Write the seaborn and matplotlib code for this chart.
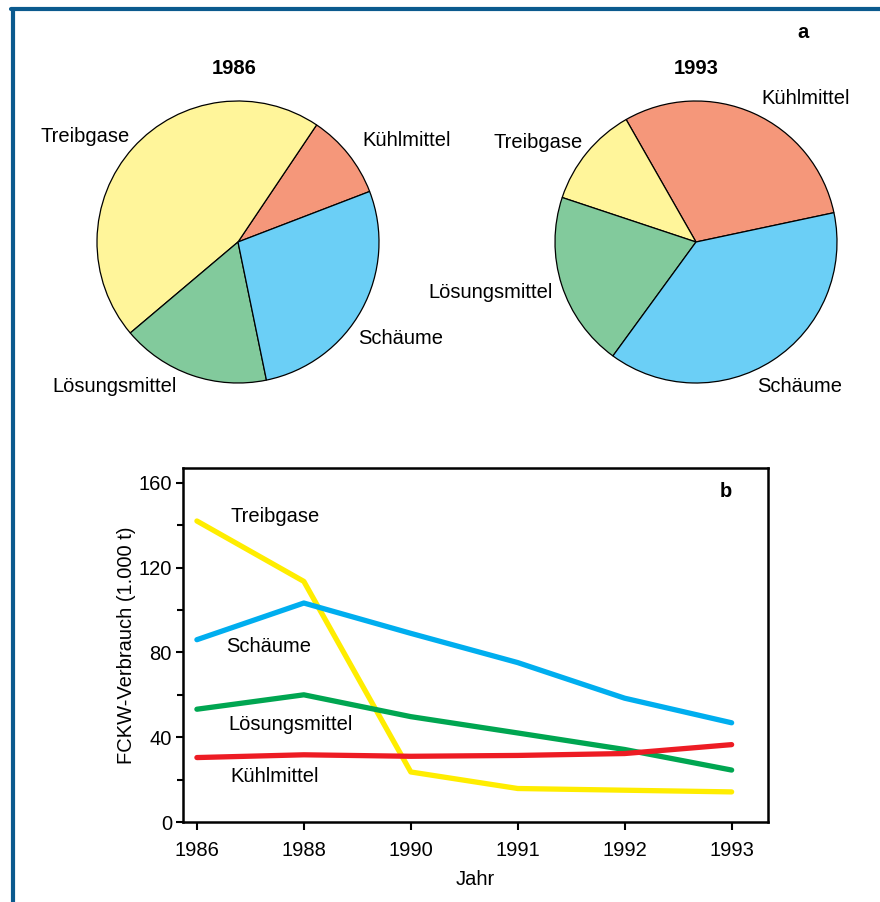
import numpy as np
import pandas as pd
import seaborn as sns
import matplotlib
matplotlib.use('Agg')
import matplotlib.pyplot as plt
from matplotlib.lines import Line2D

# data
jahre = ['1986', '1988', '1990', '1991', '1992', '1993']
treibgase = [142, 113.5, 23.6, 15.8, 15, 14.2]
schaeume = [86, 103.3, 89, 75.2, 58.4, 46.8]
loesungsmittel = [53.2, 60, 49.7, 42, 34.2, 24.5]
kuehlmittel = [30.4, 31.7, 31, 31.4, 32.3, 36.5]

namen = ['Kühlmittel', 'Treibgase', 'Lösungsmittel', 'Schäume']
pie_farben = ['#F5977A', '#FFF59A', '#82CA9C', '#6BCFF6']
linien_farben = {'Treibgase': '#FFED00', 'Schäume': '#00AEEF',
                 'Lösungsmittel': '#00A651', 'Kühlmittel': '#ED1C24'}

serien = {'Kühlmittel': kuehlmittel, 'Treibgase': treibgase,
          'Lösungsmittel': loesungsmittel, 'Schäume': schaeume}

df = pd.DataFrame({'pos': list(range(len(jahre))) * 4,
                   'wert': treibgase + schaeume + loesungsmittel + kuehlmittel,
                   'art': (['Treibgase'] * 6 + ['Schäume'] * 6
                           + ['Lösungsmittel'] * 6 + ['Kühlmittel'] * 6)})

sns.set_theme(style='white')
plt.rcParams['font.family'] = ['Liberation Sans', 'DejaVu Sans']
for k in ['text.color', 'axes.labelcolor', 'xtick.color', 'ytick.color']:
    plt.rcParams[k] = 'black'
FS = 14.5

W, H = 880, 902
fig = plt.figure(figsize=(W / 100, H / 100), dpi=100)


def fx(x):
    return x / W


def fy(y):
    return 1 - y / H


# frame
farbe_rahmen = '#0B5A8E'
fig.add_artist(Line2D([fx(13), fx(13)], [0, fy(9)], color=farbe_rahmen, lw=3, transform=fig.transFigure))
fig.add_artist(Line2D([fx(11), 1], [fy(9), fy(9)], color=farbe_rahmen, lw=3, transform=fig.transFigure))

# pies
r = 141
for cx, cy, jahr_idx, start, labels in [
        (238, 242, 0, 21, {'Treibgase': (40, 137), 'Kühlmittel': (362, 141),
                           'Schäume': (358, 338), 'Lösungsmittel': (52, 387)}),
        (696, 242, 5, 12, {'Kühlmittel': (761, 98), 'Treibgase': (493, 143),
                           'Lösungsmittel': (428, 293), 'Schäume': (757, 387)})]:
    ax = fig.add_axes([fx(cx - r), fy(cy + r), 2 * r / W, 2 * r / H])
    werte = [serien[n][jahr_idx] for n in namen]
    ax.pie(werte, colors=pie_farben, startangle=start, counterclock=True,
           wedgeprops={'edgecolor': 'black', 'linewidth': 0.9})
    ax.set_xlim(-1, 1)
    ax.set_ylim(-1, 1)
    ax.axis('off')
    fig.text(fx(cx - 4 if jahr_idx == 0 else cx), fy(68), jahre[jahr_idx],
             ha='center', va='center', fontsize=FS, fontweight='bold')
    for n, (lx, ly) in labels.items():
        fig.text(fx(lx), fy(ly), n, ha='left', va='center', fontsize=FS)

fig.text(fx(803), fy(33), 'a', ha='center', va='center', fontsize=FS, fontweight='bold')

# line chart
ax = fig.add_axes([fx(183), fy(822), (768 - 183) / W, (822 - 468) / H])
sns.lineplot(data=df, x='pos', y='wert', hue='art', palette=linien_farben,
             linewidth=3.8, legend=False, ax=ax)
ax.set_xlim(-0.13, 5.34)
ax.set_ylim(0, 167)
ax.set_xticks(range(len(jahre)))
ax.set_xticklabels(jahre)
ax.set_yticks([0, 40, 80, 120, 160])
ax.set_yticks([20, 60, 100, 140], minor=True)
ax.tick_params(axis='x', direction='out', length=6, width=1.5, labelsize=FS,
               bottom=True, pad=7.5)
ax.tick_params(axis='y', which='major', direction='out', length=5, width=1.5,
               labelsize=FS, left=True, pad=3)
ax.tick_params(axis='y', which='minor', direction='out', length=4, width=1.5,
               left=True)
for s in ax.spines.values():
    s.set_color('black')
    s.set_linewidth(1.8)
ax.set_xlabel('Jahr', fontsize=FS, labelpad=7.5)
ax.set_ylabel('FCKW-Verbrauch (1.000 t)', fontsize=FS, labelpad=2)

for n, (lx, ly) in {'Treibgase': (230, 517), 'Schäume': (226, 646),
                    'Lösungsmittel': (228, 724), 'Kühlmittel': (230, 777)}.items():
    fig.text(fx(lx), fy(ly), n, ha='left', va='center', fontsize=FS)
fig.text(fx(726), fy(492), 'b', ha='center', va='center', fontsize=FS, fontweight='bold')

fig.savefig('out.png', dpi=100)
